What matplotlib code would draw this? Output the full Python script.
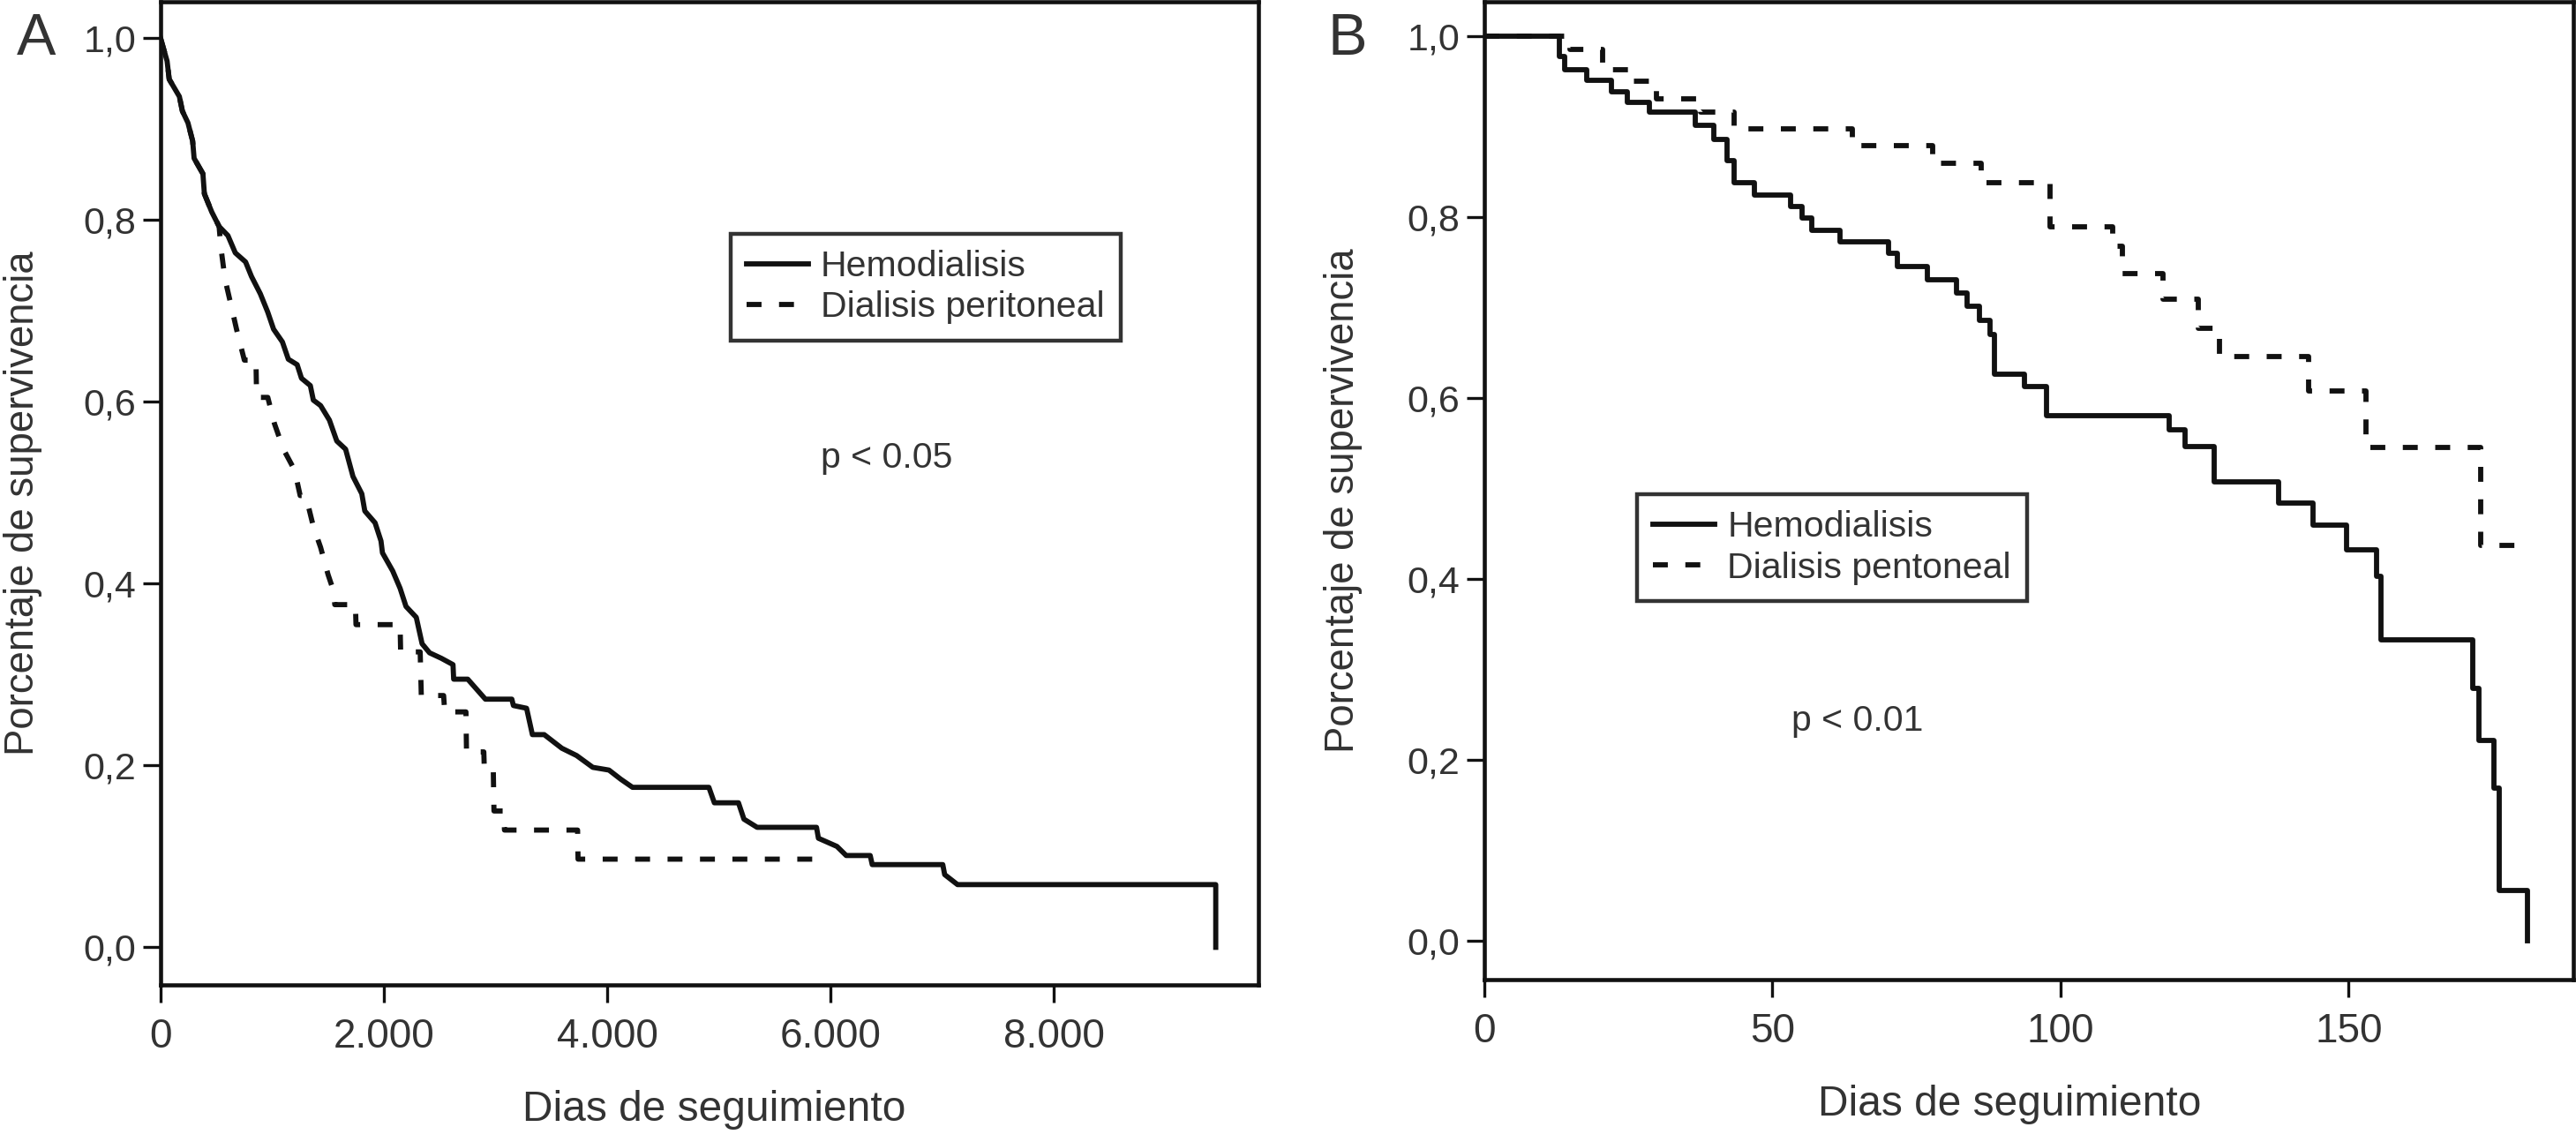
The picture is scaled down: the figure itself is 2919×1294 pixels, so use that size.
import matplotlib
matplotlib.use('Agg')
import matplotlib.pyplot as plt

plt.rcParams['font.family'] = ['Liberation Sans', 'DejaVu Sans']

INK = '#111111'
TXT = '#333333'

# Panel A: survival over the whole follow-up (days).
# Vertices of each curve in drawing order (the dense early part of the
# curves is a jagged diagonal, so the points are joined by straight lines).
A_HD_DAYS = [0, 58, 77, 168, 195, 245, 287, 300, 379, 392, 458, 524, 603, 669,
             761, 814, 893, 959, 1012, 1091, 1144, 1223, 1262, 1341, 1368,
             1433, 1512, 1578, 1657, 1723, 1802, 1829, 1921, 1974, 1987, 2079,
             2145, 2198, 2290, 2342, 2409, 2514, 2619, 2625, 2751, 2909, 3146,
             3160, 3278, 3330, 3436, 3594, 3726, 3871, 4016, 4121, 4227, 4911,
             4960, 5176, 5225, 5343, 5875, 5892, 6058, 6141, 6356, 6374, 7006,
             7023, 7138, 9451, 9451]
A_HD_SURV = [1.0, 0.975, 0.955, 0.936, 0.92, 0.907, 0.887, 0.868, 0.851, 0.829,
             0.809, 0.793, 0.783, 0.764, 0.754, 0.738, 0.719, 0.699, 0.68,
             0.666, 0.647, 0.641, 0.626, 0.618, 0.602, 0.596, 0.58, 0.557,
             0.548, 0.518, 0.499, 0.48, 0.467, 0.447, 0.434, 0.414, 0.395,
             0.375, 0.363, 0.334, 0.324, 0.318, 0.311, 0.295, 0.295, 0.273,
             0.273, 0.266, 0.263, 0.234, 0.234, 0.219, 0.211, 0.198, 0.195,
             0.185, 0.176, 0.176, 0.159, 0.159, 0.141, 0.132, 0.132, 0.12,
             0.111, 0.101, 0.101, 0.091, 0.091, 0.08, 0.069, 0.069, 0.0]
A_DP_DAYS = [0, 58, 77, 168, 195, 245, 287, 300, 379, 392, 458, 524, 540, 577,
             643, 680, 750, 854, 860, 960, 1020, 1100, 1200, 1250, 1300, 1368,
             1433, 1500, 1552, 1560, 1745, 1750, 2145, 2150, 2325, 2335, 2535,
             2545, 2735, 2740, 2895, 2900, 2980, 2986, 3075, 3080, 3735, 3739,
             5950]
A_DP_SURV = [1.0, 0.975, 0.955, 0.936, 0.92, 0.907, 0.887, 0.868, 0.851, 0.829,
             0.809, 0.793, 0.77, 0.735, 0.70, 0.68, 0.646, 0.646, 0.605, 0.605,
             0.576, 0.548, 0.525, 0.497, 0.497, 0.463, 0.44, 0.41, 0.391,
             0.377, 0.377, 0.355, 0.355, 0.325, 0.325, 0.277, 0.277, 0.259,
             0.259, 0.215, 0.215, 0.194, 0.194, 0.15, 0.15, 0.129, 0.129,
             0.097, 0.097]
A_XTICKS = [0, 2000, 4000, 6000, 8000]
A_XTICKLABELS = ['0', '2.000', '4.000', '6.000', '8.000']
A_LABELS = ['Hemodialisis', 'Dialisis peritoneal']

# Panel B: first months of follow-up (days), Kaplan-Meier steps.
B_HD_DAYS = [0, 13.0, 13.9, 17.8, 22.0, 24.8, 28.7, 36.6, 39.9, 42.1, 43.3,
             46.9, 53.2, 55.1, 56.9, 61.7, 70.2, 71.7, 76.9, 82.0, 83.8, 85.9,
             87.8, 88.6, 93.8, 97.5, 118.9, 121.6, 126.7, 137.9, 143.8, 149.7,
             154.9, 155.6, 171.6, 172.6, 175.2, 176.2, 181.1]
B_HD_SURV = [1.0, 0.978, 0.963, 0.952, 0.939, 0.927, 0.917, 0.902, 0.886,
             0.863, 0.838, 0.825, 0.812, 0.799, 0.786, 0.773, 0.76, 0.746,
             0.731, 0.716, 0.702, 0.686, 0.671, 0.627, 0.613, 0.581, 0.565,
             0.547, 0.508, 0.484, 0.46, 0.432, 0.403, 0.333, 0.279, 0.222,
             0.169, 0.056, 0.0]
B_DP_DAYS = [0, 14.8, 20.6, 25.5, 29.8, 37.5, 43.3, 63.9, 77.8, 86.2, 98.1,
             109.1, 110.8, 117.8, 123.9, 127.6, 143.0, 153.0, 172.9, 181.7]
B_DP_SURV = [1.0, 0.986, 0.963, 0.951, 0.931, 0.917, 0.898, 0.879, 0.86,
             0.838, 0.79, 0.768, 0.738, 0.71, 0.677, 0.646, 0.608, 0.546,
             0.437, 0.437]
B_XTICKS = [0, 50, 100, 150]
B_XTICKLABELS = ['0', '50', '100', '150']
B_LABELS = ['Hemodialisis', 'Dialisis pentoneal']

YTICKS = [0.0, 0.2, 0.4, 0.6, 0.8, 1.0]
YTICKLABELS = ['0,0', '0,2', '0,4', '0,6', '0,8', '1,0']

LW = 4.2
DASH = (0, (2.9, 3.4))


def draw_panel(ax, hd_x, hd_y, dp_x, dp_y, labels, xticks, xticklabels,
               xlim, ylim, legend_anchor, ptext, ppos, xlabel_x, ylabel_x,
               steps):
    style = 'steps-post' if steps else 'default'
    solid, = ax.plot(hd_x, hd_y, drawstyle=style, color=INK, lw=LW)
    dashed, = ax.plot(dp_x, dp_y, drawstyle=style, color=INK, lw=LW,
                      linestyle=DASH)
    ax.set_xlim(*xlim)
    ax.set_ylim(*ylim)
    ax.set_xticks(xticks)
    ax.set_xticklabels(xticklabels)
    ax.set_yticks(YTICKS)
    ax.set_yticklabels(YTICKLABELS)
    for sp in ax.spines.values():
        sp.set_linewidth(3.3)
        sp.set_color(INK)
    ax.tick_params(axis='both', direction='out', length=14.5, width=2.4,
                   color=INK, labelcolor=TXT)
    ax.tick_params(axis='y', labelsize=31, pad=5.5)
    ax.tick_params(axis='x', labelsize=33, pad=12)
    ax.set_xlabel('Dias de seguimiento', fontsize=34.5, color=TXT)
    ax.xaxis.set_label_coords(xlabel_x, -0.107)
    ax.set_ylabel('Porcentaje de supervivencia', fontsize=32.8, color=TXT)
    ax.yaxis.set_label_coords(ylabel_x, 0.49)

    leg = ax.legend([solid, dashed], labels, loc='upper left',
                    bbox_to_anchor=legend_anchor, borderaxespad=0,
                    fancybox=False, edgecolor='#333333', fontsize=29.5,
                    labelcolor=TXT, handlelength=1.7, handletextpad=0.35,
                    labelspacing=0.2, borderpad=0.45, framealpha=1)
    leg.get_frame().set_linewidth(3.2)

    ax.text(ppos[0], ppos[1], ptext, fontsize=29.5, color=TXT,
            ha='left', va='baseline')


fig = plt.figure(figsize=(29.19, 12.94), dpi=100)
ax_a = fig.add_axes([0.06235, 0.1376, 0.4262, 0.8609])
ax_b = fig.add_axes([0.5762, 0.1422, 0.4228, 0.8563])

draw_panel(ax_a, A_HD_DAYS, A_HD_SURV, A_DP_DAYS, A_DP_SURV, A_LABELS,
           A_XTICKS, A_XTICKLABELS, (0, 9834), (-0.0413, 1.0403),
           (0.519, 0.764), 'p < 0.05', (5913, 0.528), 0.504, -0.1077,
           steps=False)
draw_panel(ax_b, B_HD_DAYS, B_HD_SURV, B_DP_DAYS, B_DP_SURV, B_LABELS,
           B_XTICKS, B_XTICKLABELS, (0, 189.0), (-0.043, 1.0386),
           (0.140, 0.4964), 'p < 0.01', (53.3, 0.232), 0.482, -0.1118,
           steps=True)

fig.text(41 / 2919, 1 - 62 / 1294, 'A', fontsize=48, color=TXT,
         ha='center', va='baseline')
fig.text(1527 / 2919, 1 - 62 / 1294, 'B', fontsize=48, color=TXT,
         ha='center', va='baseline')

fig.savefig('out.png', dpi=100)
